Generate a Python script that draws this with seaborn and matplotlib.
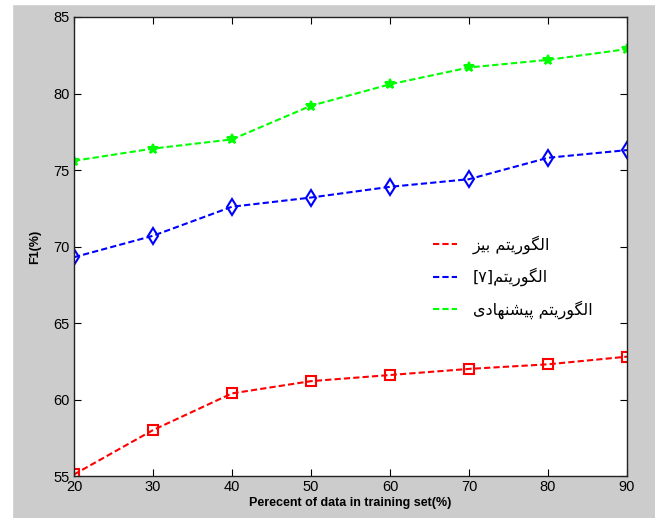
import seaborn as sns
import matplotlib.pyplot as plt
from matplotlib.lines import Line2D
from matplotlib.patches import Rectangle

percent = [20, 30, 40, 50, 60, 70, 80, 90]
f1_base = [55.1, 58.0, 60.4, 61.2, 61.6, 62.0, 62.3, 62.8]
f1_ref7 = [69.3, 70.7, 72.6, 73.2, 73.9, 74.4, 75.8, 76.3]
f1_proposed = [75.6, 76.4, 77.0, 79.2, 80.6, 81.7, 82.2, 82.9]

labels = ["الگوریتم بیز", "الگوریتم[۷]", "الگوریتم پیشنهادی"]

# matplotlib has no arabic shaping, so do it by hand for the letters used here
# (isolated, final, initial, medial)
FORMS = {
    "\u0627": ("\uFE8D", "\uFE8E", None, None),
    "\u0644": ("\uFEDD", "\uFEDE", "\uFEDF", "\uFEE0"),
    "\u06AF": ("\uFB92", "\uFB93", "\uFB94", "\uFB95"),
    "\u0648": ("\uFEED", "\uFEEE", None, None),
    "\u0631": ("\uFEAD", "\uFEAE", None, None),
    "\u06CC": ("\uFBFC", "\uFBFD", "\uFBFE", "\uFBFF"),
    "\u062A": ("\uFE95", "\uFE96", "\uFE97", "\uFE98"),
    "\u0645": ("\uFEE1", "\uFEE2", "\uFEE3", "\uFEE4"),
    "\u0628": ("\uFE8F", "\uFE90", "\uFE91", "\uFE92"),
    "\u0632": ("\uFEAF", "\uFEB0", None, None),
    "\u067E": ("\uFB56", "\uFB57", "\uFB58", "\uFB59"),
    "\u0634": ("\uFEB5", "\uFEB6", "\uFEB7", "\uFEB8"),
    "\u0646": ("\uFEE5", "\uFEE6", "\uFEE7", "\uFEE8"),
    "\u0647": ("\uFEE9", "\uFEEA", "\uFEEB", "\uFEEC"),
    "\u062F": ("\uFEA9", "\uFEAA", None, None),
}
MIRROR = {"[": "]", "]": "[", "(": ")", ")": "("}


def shape(s):
    out = []
    for i, c in enumerate(s):
        if c not in FORMS:
            out.append(c)
            continue
        prev = s[i - 1] if i > 0 else ""
        nxt = s[i + 1] if i + 1 < len(s) else ""
        join_prev = prev in FORMS and FORMS[prev][2] is not None
        join_next = nxt in FORMS and FORMS[c][2] is not None
        iso, fin, ini, med = FORMS[c]
        if join_prev and join_next:
            out.append(med)
        elif join_prev:
            out.append(fin)
        elif join_next:
            out.append(ini)
        else:
            out.append(iso)
    return "".join(MIRROR.get(c, c) for c in reversed(out))


colors = ["#ff0000", "#0000ff", "#00ff00"]
markers = ["s", "d", "*"]
msizes = [7, 8, 7]
series = [f1_base, f1_ref7, f1_proposed]

plt.rcParams["font.family"] = ["Liberation Sans", "DejaVu Sans"]
fig = plt.figure(figsize=(6.55, 5.18), dpi=100, facecolor="#cccccc")
fig.add_artist(Rectangle((0, 0), 12 / 655, 1, transform=fig.transFigure, color="white", zorder=-1))
fig.add_artist(Rectangle((0, 1 - 4 / 518), 1, 4 / 518, transform=fig.transFigure, color="white", zorder=-1))
ax = fig.add_axes([74 / 655, 42 / 518, 553 / 655, 459 / 518])
ax.set_facecolor("white")

for y, c, m, ms in zip(series, colors, markers, msizes):
    sns.lineplot(x=percent, y=y, ax=ax, color=c, marker=m, markersize=ms,
                 markerfacecolor="none" if m != "*" else c, markeredgecolor=c,
                 markeredgewidth=1.5, linewidth=1.5, dashes=(3, 1.5))

ax.set_xlim(20, 90)
ax.set_ylim(55, 85)
ax.set_xticks(range(20, 91, 10))
ax.set_yticks(range(55, 86, 5))
ax.tick_params(direction="in", length=5, width=0.8, labelsize=10.5, top=True, right=True, pad=3)
for sp in ax.spines.values():
    sp.set_color("#222222")
    sp.set_linewidth(1)
ax.set_xlabel("Perecent of data in training set(%)", fontsize=9, fontweight="bold", labelpad=2)
ax.set_ylabel("F1(%)", fontsize=9, fontweight="bold", labelpad=9)

handles = [Line2D([], [], color=c, linestyle="--", dashes=(3, 1.5), linewidth=1.5) for c in colors]
ax.legend(handles, [shape(l) for l in labels], loc="upper left", bbox_to_anchor=(0.623, 0.555),
          frameon=False, handlelength=1.5, handletextpad=1.0, labelspacing=0.85,
          prop={"family": ["DejaVu Sans"], "size": 11.5})

fig.savefig("out.png", dpi=100, facecolor=fig.get_facecolor())
